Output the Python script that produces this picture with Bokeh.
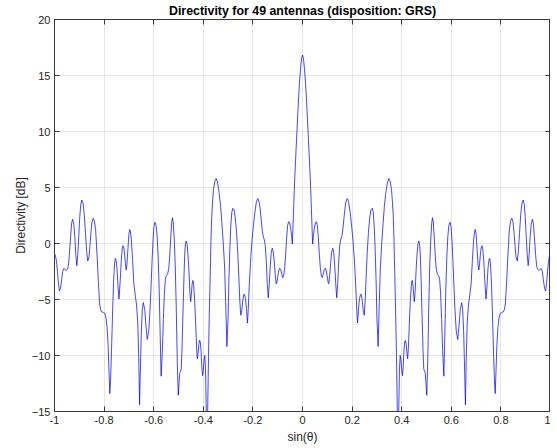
from bokeh.plotting import figure
from bokeh.models import Range1d, LinearAxis, FixedTicker, Spacer
from bokeh.layouts import row
from bokeh.embed import file_html
from bokeh.resources import INLINE

# Directivity (dB) versus sin(theta)
sin_theta_left = [
    -1.000, -0.996, -0.992, -0.988, -0.984, -0.980, -0.976, -0.971, -0.967, -0.963,
    -0.958, -0.953, -0.948, -0.944, -0.940, -0.935, -0.931, -0.927, -0.922, -0.918,
    -0.914, -0.910, -0.906, -0.902, -0.898, -0.894, -0.890, -0.885, -0.880, -0.875,
    -0.870, -0.866, -0.861, -0.857, -0.853, -0.849, -0.844, -0.839, -0.834, -0.828,
    -0.823, -0.818, -0.814, -0.810, -0.803, -0.797, -0.792, -0.788, -0.784, -0.780,
    -0.777, -0.774, -0.770, -0.766, -0.762, -0.758, -0.755, -0.752, -0.748, -0.744,
    -0.740, -0.735, -0.731, -0.727, -0.724, -0.721, -0.718, -0.714, -0.711, -0.708,
    -0.704, -0.700, -0.697, -0.694, -0.690, -0.685, -0.680, -0.674, -0.669, -0.664,
    -0.660, -0.657, -0.654, -0.650, -0.646, -0.642, -0.636, -0.631, -0.626, -0.620,
    -0.615, -0.611, -0.607, -0.603, -0.599, -0.595, -0.590, -0.586, -0.582, -0.578,
    -0.574, -0.570, -0.565, -0.561, -0.557, -0.553, -0.549, -0.544, -0.539, -0.535,
    -0.531, -0.527, -0.524, -0.521, -0.517, -0.513, -0.509, -0.505, -0.501, -0.498,
    -0.495, -0.492, -0.489, -0.486, -0.482, -0.478, -0.475, -0.472, -0.469, -0.466,
    -0.462, -0.458, -0.454, -0.451, -0.448, -0.445, -0.442, -0.439, -0.435, -0.431,
    -0.427, -0.424, -0.421, -0.418, -0.415, -0.412, -0.409, -0.406, -0.403, -0.400,
    -0.397, -0.394, -0.391, -0.388, -0.385, -0.382, -0.379, -0.376, -0.372, -0.369,
    -0.366, -0.363, -0.359, -0.353, -0.348, -0.342, -0.336, -0.330, -0.325, -0.320,
    -0.314, -0.309, -0.305, -0.300, -0.297, -0.293, -0.289, -0.285, -0.281, -0.276,
    -0.271, -0.266, -0.261, -0.257, -0.253, -0.249, -0.245, -0.241, -0.237, -0.234,
    -0.230, -0.226, -0.222, -0.219, -0.215, -0.210, -0.204, -0.198, -0.192, -0.186,
    -0.181, -0.178, -0.174, -0.170, -0.166, -0.162, -0.158, -0.154, -0.150, -0.146,
    -0.142, -0.138, -0.134, -0.130, -0.126, -0.122, -0.118, -0.114, -0.110, -0.106,
    -0.104, -0.100, -0.096, -0.092, -0.088, -0.084, -0.080, -0.076, -0.072, -0.068,
    -0.064, -0.060, -0.056, -0.052, -0.048, -0.044, -0.041, -0.039, -0.036, -0.032,
    -0.028, -0.024, -0.020, -0.016, -0.012, -0.008, -0.004,
]
directivity_left = [
    -0.9, -1.1, -1.6, -2.5, -3.6, -4.24, -4.0, -3.2, -2.5, -2.25,
    -2.3, -2.4, -2.3, -2.0, -1.0, 0.6, 1.8, 2.16, 1.7, 0.6,
    -1.0, -1.98, -1.0, 0.7, 2.4, 3.5, 3.88, 3.6, 2.6, 0.9,
    -0.8, -1.56, -1.2, -0.2, 1.0, 1.9, 2.25, 2.0, 1.2, -1.2,
    -3.5, -5.4, -5.9, -6.1, -6.15, -6.25, -6.7, -7.5, -9.0, -11.5,
    -13.4, -12.2, -9.5, -6.3, -3.5, -1.8, -1.33, -1.45, -2.2, -3.8,
    -4.96, -3.3, -1.6, -0.5, -0.2, -0.3, -0.8, -1.8, -2.37, -1.9,
    -0.5, 0.8, 1.25, 1.1, 0.3, -1.5, -3.6, -4.7, -5.5, -7.2,
    -10.5, -14.4, -11.5, -8.0, -5.9, -5.28, -5.9, -7.4, -8.57, -7.8,
    -6.0, -4.0, -1.8, 0.2, 1.5, 1.9, 1.6, 0.6, -1.2, -4.0,
    -8.0, -11.85, -9.5, -6.8, -4.5, -3.2, -2.85, -2.75, -2.2, -1.0,
    0.6, 2.0, 2.3, 1.8, 0.3, -2.0, -5.8, -10.5, -13.55, -12.5,
    -11.6, -11.4, -11.2, -9.5, -6.3, -3.0, -1.0, 0.0, 0.22, 0.0,
    -0.9, -2.4, -4.4, -5.2, -4.5, -3.6, -3.3, -3.7, -5.0, -7.0,
    -9.3, -10.3, -9.8, -9.0, -8.65, -8.8, -9.6, -11.0, -11.8, -11.3,
    -10.4, -10.0, -11.2, -15.0, -19.0, -14.5, -10.1, -6.5, -2.7, 0.3,
    2.4, 3.6, 4.8, 5.6, 5.8, 5.4, 4.5, 3.3, 1.8, 0.2,
    -2.1, -5.8, -9.2, -6.6, -3.5, -0.5, 1.6, 2.8, 3.14, 3.0,
    2.3, 1.0, -0.8, -2.8, -5.0, -6.4, -6.0, -5.1, -4.55, -4.55,
    -4.9, -5.8, -7.1, -6.0, -3.9, -1.8, 0.2, 1.6, 2.8, 3.7,
    4.0, 3.95, 3.6, 2.9, 2.0, 1.1, 0.6, 0.35, -0.2, -1.6,
    -3.6, -4.85, -3.6, -2.0, -0.8, -0.43, -0.75, -1.6, -2.8, -3.6,
    -3.55, -3.0, -2.45, -2.2, -2.3, -2.7, -3.05, -2.9, -2.2, -1.0,
    0.5, 1.6, 1.95, 1.85, 1.4, 0.7, -0.05, 1.1, 3.0, 5.5,
    7.4, 9.3, 11.1, 12.9, 14.4, 15.6, 16.5,
]
sin_theta_right = [
    0.000, 0.004, 0.008, 0.012, 0.016, 0.020, 0.024, 0.028, 0.032, 0.036,
    0.039, 0.041, 0.044, 0.048, 0.052, 0.056, 0.060, 0.064, 0.068, 0.072,
    0.076, 0.080, 0.084, 0.088, 0.092, 0.096, 0.100, 0.104, 0.106, 0.110,
    0.114, 0.118, 0.122, 0.126, 0.130, 0.134, 0.138, 0.142, 0.146, 0.150,
    0.154, 0.158, 0.162, 0.166, 0.170, 0.174, 0.178, 0.181, 0.186, 0.192,
    0.198, 0.204, 0.210, 0.215, 0.219, 0.222, 0.226, 0.230, 0.234, 0.237,
    0.241, 0.245, 0.249, 0.253, 0.257, 0.261, 0.266, 0.271, 0.276, 0.281,
    0.285, 0.289, 0.293, 0.297, 0.300, 0.305, 0.309, 0.314, 0.320, 0.325,
    0.330, 0.336, 0.342, 0.348, 0.353, 0.359, 0.363, 0.366, 0.369, 0.372,
    0.376, 0.379, 0.382, 0.385, 0.388, 0.391, 0.394, 0.397, 0.400, 0.403,
    0.406, 0.409, 0.412, 0.415, 0.418, 0.421, 0.424, 0.427, 0.431, 0.435,
    0.439, 0.442, 0.445, 0.448, 0.451, 0.454, 0.458, 0.462, 0.466, 0.469,
    0.472, 0.475, 0.478, 0.482, 0.486, 0.489, 0.492, 0.495, 0.498, 0.501,
    0.505, 0.509, 0.513, 0.517, 0.521, 0.524, 0.527, 0.531, 0.535, 0.539,
    0.544, 0.549, 0.553, 0.557, 0.561, 0.565, 0.570, 0.574, 0.578, 0.582,
    0.586, 0.590, 0.595, 0.599, 0.603, 0.607, 0.611, 0.615, 0.620, 0.626,
    0.631, 0.636, 0.642, 0.646, 0.650, 0.654, 0.657, 0.660, 0.664, 0.669,
    0.674, 0.680, 0.685, 0.690, 0.694, 0.697, 0.700, 0.704, 0.708, 0.711,
    0.714, 0.718, 0.721, 0.724, 0.727, 0.731, 0.735, 0.740, 0.744, 0.748,
    0.752, 0.755, 0.758, 0.762, 0.766, 0.770, 0.774, 0.777, 0.780, 0.784,
    0.788, 0.792, 0.797, 0.803, 0.810, 0.814, 0.818, 0.823, 0.828, 0.834,
    0.839, 0.844, 0.849, 0.853, 0.857, 0.861, 0.866, 0.870, 0.875, 0.880,
    0.885, 0.890, 0.894, 0.898, 0.902, 0.906, 0.910, 0.914, 0.918, 0.922,
    0.927, 0.931, 0.935, 0.940, 0.944, 0.948, 0.953, 0.958, 0.963, 0.967,
    0.971, 0.976, 0.980, 0.984, 0.988, 0.992, 0.996, 1.000,
]
directivity_right = [
    16.83, 16.5, 15.6, 14.4, 12.9, 11.1, 9.3, 7.4, 5.5, 3.0,
    1.1, -0.05, 0.7, 1.4, 1.85, 1.95, 1.6, 0.5, -1.0, -2.2,
    -2.9, -3.05, -2.7, -2.3, -2.2, -2.45, -3.0, -3.55, -3.6, -2.8,
    -1.6, -0.75, -0.43, -0.8, -2.0, -3.6, -4.85, -3.6, -1.6, -0.2,
    0.35, 0.6, 1.1, 2.0, 2.9, 3.6, 3.95, 4.0, 3.7, 2.8,
    1.6, 0.2, -1.8, -3.9, -6.0, -7.1, -5.8, -4.9, -4.55, -4.55,
    -5.1, -6.0, -6.4, -5.0, -2.8, -0.8, 1.0, 2.3, 3.0, 3.14,
    2.8, 1.6, -0.5, -3.5, -6.6, -9.2, -5.8, -2.1, 0.2, 1.8,
    3.3, 4.5, 5.4, 5.8, 5.6, 4.8, 3.6, 2.4, 0.3, -2.7,
    -6.5, -10.1, -14.5, -19.0, -15.0, -11.2, -10.0, -10.4, -11.3, -11.8,
    -11.0, -9.6, -8.8, -8.65, -9.0, -9.8, -10.3, -9.3, -7.0, -5.0,
    -3.7, -3.3, -3.6, -4.5, -5.2, -4.4, -2.4, -0.9, 0.0, 0.22,
    0.0, -1.0, -3.0, -6.3, -9.5, -11.2, -11.4, -11.6, -12.5, -13.55,
    -10.5, -5.8, -2.0, 0.3, 1.8, 2.3, 2.0, 0.6, -1.0, -2.2,
    -2.75, -2.85, -3.2, -4.5, -6.8, -9.5, -11.85, -8.0, -4.0, -1.2,
    0.6, 1.6, 1.9, 1.5, 0.2, -1.8, -4.0, -6.0, -7.8, -8.57,
    -7.4, -5.9, -5.28, -5.9, -8.0, -11.5, -14.4, -10.5, -7.2, -5.5,
    -4.7, -3.6, -1.5, 0.3, 1.1, 1.25, 0.8, -0.5, -1.9, -2.37,
    -1.8, -0.8, -0.3, -0.2, -0.5, -1.6, -3.3, -4.96, -3.8, -2.2,
    -1.45, -1.33, -1.8, -3.5, -6.3, -9.5, -12.2, -13.4, -11.5, -9.0,
    -7.5, -6.7, -6.25, -6.15, -6.1, -5.9, -5.4, -3.5, -1.2, 1.2,
    2.0, 2.25, 1.9, 1.0, -0.2, -1.2, -1.56, -0.8, 0.9, 2.6,
    3.6, 3.88, 3.5, 2.4, 0.7, -1.0, -1.98, -1.0, 0.6, 1.7,
    2.16, 1.8, 0.6, -1.0, -2.0, -2.3, -2.4, -2.3, -2.25, -2.5,
    -3.2, -4.0, -4.24, -3.6, -2.5, -1.6, -1.1, -0.9,
]
x_ticks = [-1, -0.8, -0.6, -0.4, -0.2, 0, 0.2, 0.4, 0.6, 0.8, 1]
y_ticks = [-15, -10, -5, 0, 5, 10, 15, 20]
x_tick_labels = {-1: "-1", -0.8: "-0.8", -0.6: "-0.6", -0.4: "-0.4", -0.2: "-0.2",
                 0: "0", 0.2: "0.2", 0.4: "0.4", 0.6: "0.6", 0.8: "0.8", 1: "1"}

sin_theta = sin_theta_left + sin_theta_right
directivity = directivity_left + directivity_right

FONT = "Liberation Sans"
AX = "#3a3a3a"

p = figure(frame_width=496, frame_height=392,
           x_range=Range1d(-1, 1), y_range=Range1d(-15, 20),
           output_backend="svg", toolbar_location=None,
           min_border_left=0, min_border_right=0, min_border_top=0, min_border_bottom=0,
           background_fill_color="white", border_fill_color="white")
p.outline_line_color = AX
p.outline_line_width = 1

p.title.text = "Directivity for 49 antennas (disposition: GRS)"
p.title.align = "center"
p.title.text_font = FONT
p.title.text_font_size = "12.4px"
p.title.text_font_style = "bold"
p.title.text_color = "black"
p.title.standoff = 3
p.title.offset = 0

p.line(sin_theta, directivity, line_color="#0000ff", line_width=1.0, line_alpha=0.72)

def style(ax, show_labels):
    ax.axis_line_color = AX
    ax.major_tick_line_color = AX
    ax.minor_tick_line_color = None
    ax.major_tick_in = 5
    ax.major_tick_out = 0
    ax.major_label_text_font = FONT
    if show_labels:
        ax.major_label_text_color = "#262626"
        ax.major_label_text_font_size = "11px"
        ax.major_label_standoff = 4
    else:
        ax.major_label_text_color = None
        ax.major_label_text_font_size = "1px"
        ax.major_label_standoff = 0

xa = p.xaxis[0]
xa.ticker = FixedTicker(ticks=x_ticks)
xa.major_label_overrides = x_tick_labels
style(xa, True)
xa.axis_label = "sin(θ)"
xa.axis_label_text_font = FONT
xa.axis_label_text_font_size = "12px"
xa.axis_label_text_font_style = "normal"
xa.axis_label_standoff = 3
xa.axis_label_text_color = "#262626"

ya = p.yaxis[0]
ya.ticker = FixedTicker(ticks=y_ticks)
style(ya, True)
ya.axis_label = "Directivity [dB]"
ya.axis_label_text_font = FONT
ya.axis_label_text_font_size = "12px"
ya.axis_label_text_font_style = "normal"
ya.axis_label_standoff = 1
ya.axis_label_text_color = "#262626"

top = LinearAxis(ticker=FixedTicker(ticks=x_ticks))
style(top, False)
p.add_layout(top, "above")
right = LinearAxis(ticker=FixedTicker(ticks=y_ticks))
style(right, False)
p.add_layout(right, "right")

p.xgrid.ticker = FixedTicker(ticks=x_ticks)
p.ygrid.ticker = FixedTicker(ticks=y_ticks)
p.grid.grid_line_color = "#e6e6e6"
p.grid.grid_line_width = 1

layout = row(Spacer(width=10, height=10), p)

open("out.html", "w").write(file_html(layout, INLINE))
